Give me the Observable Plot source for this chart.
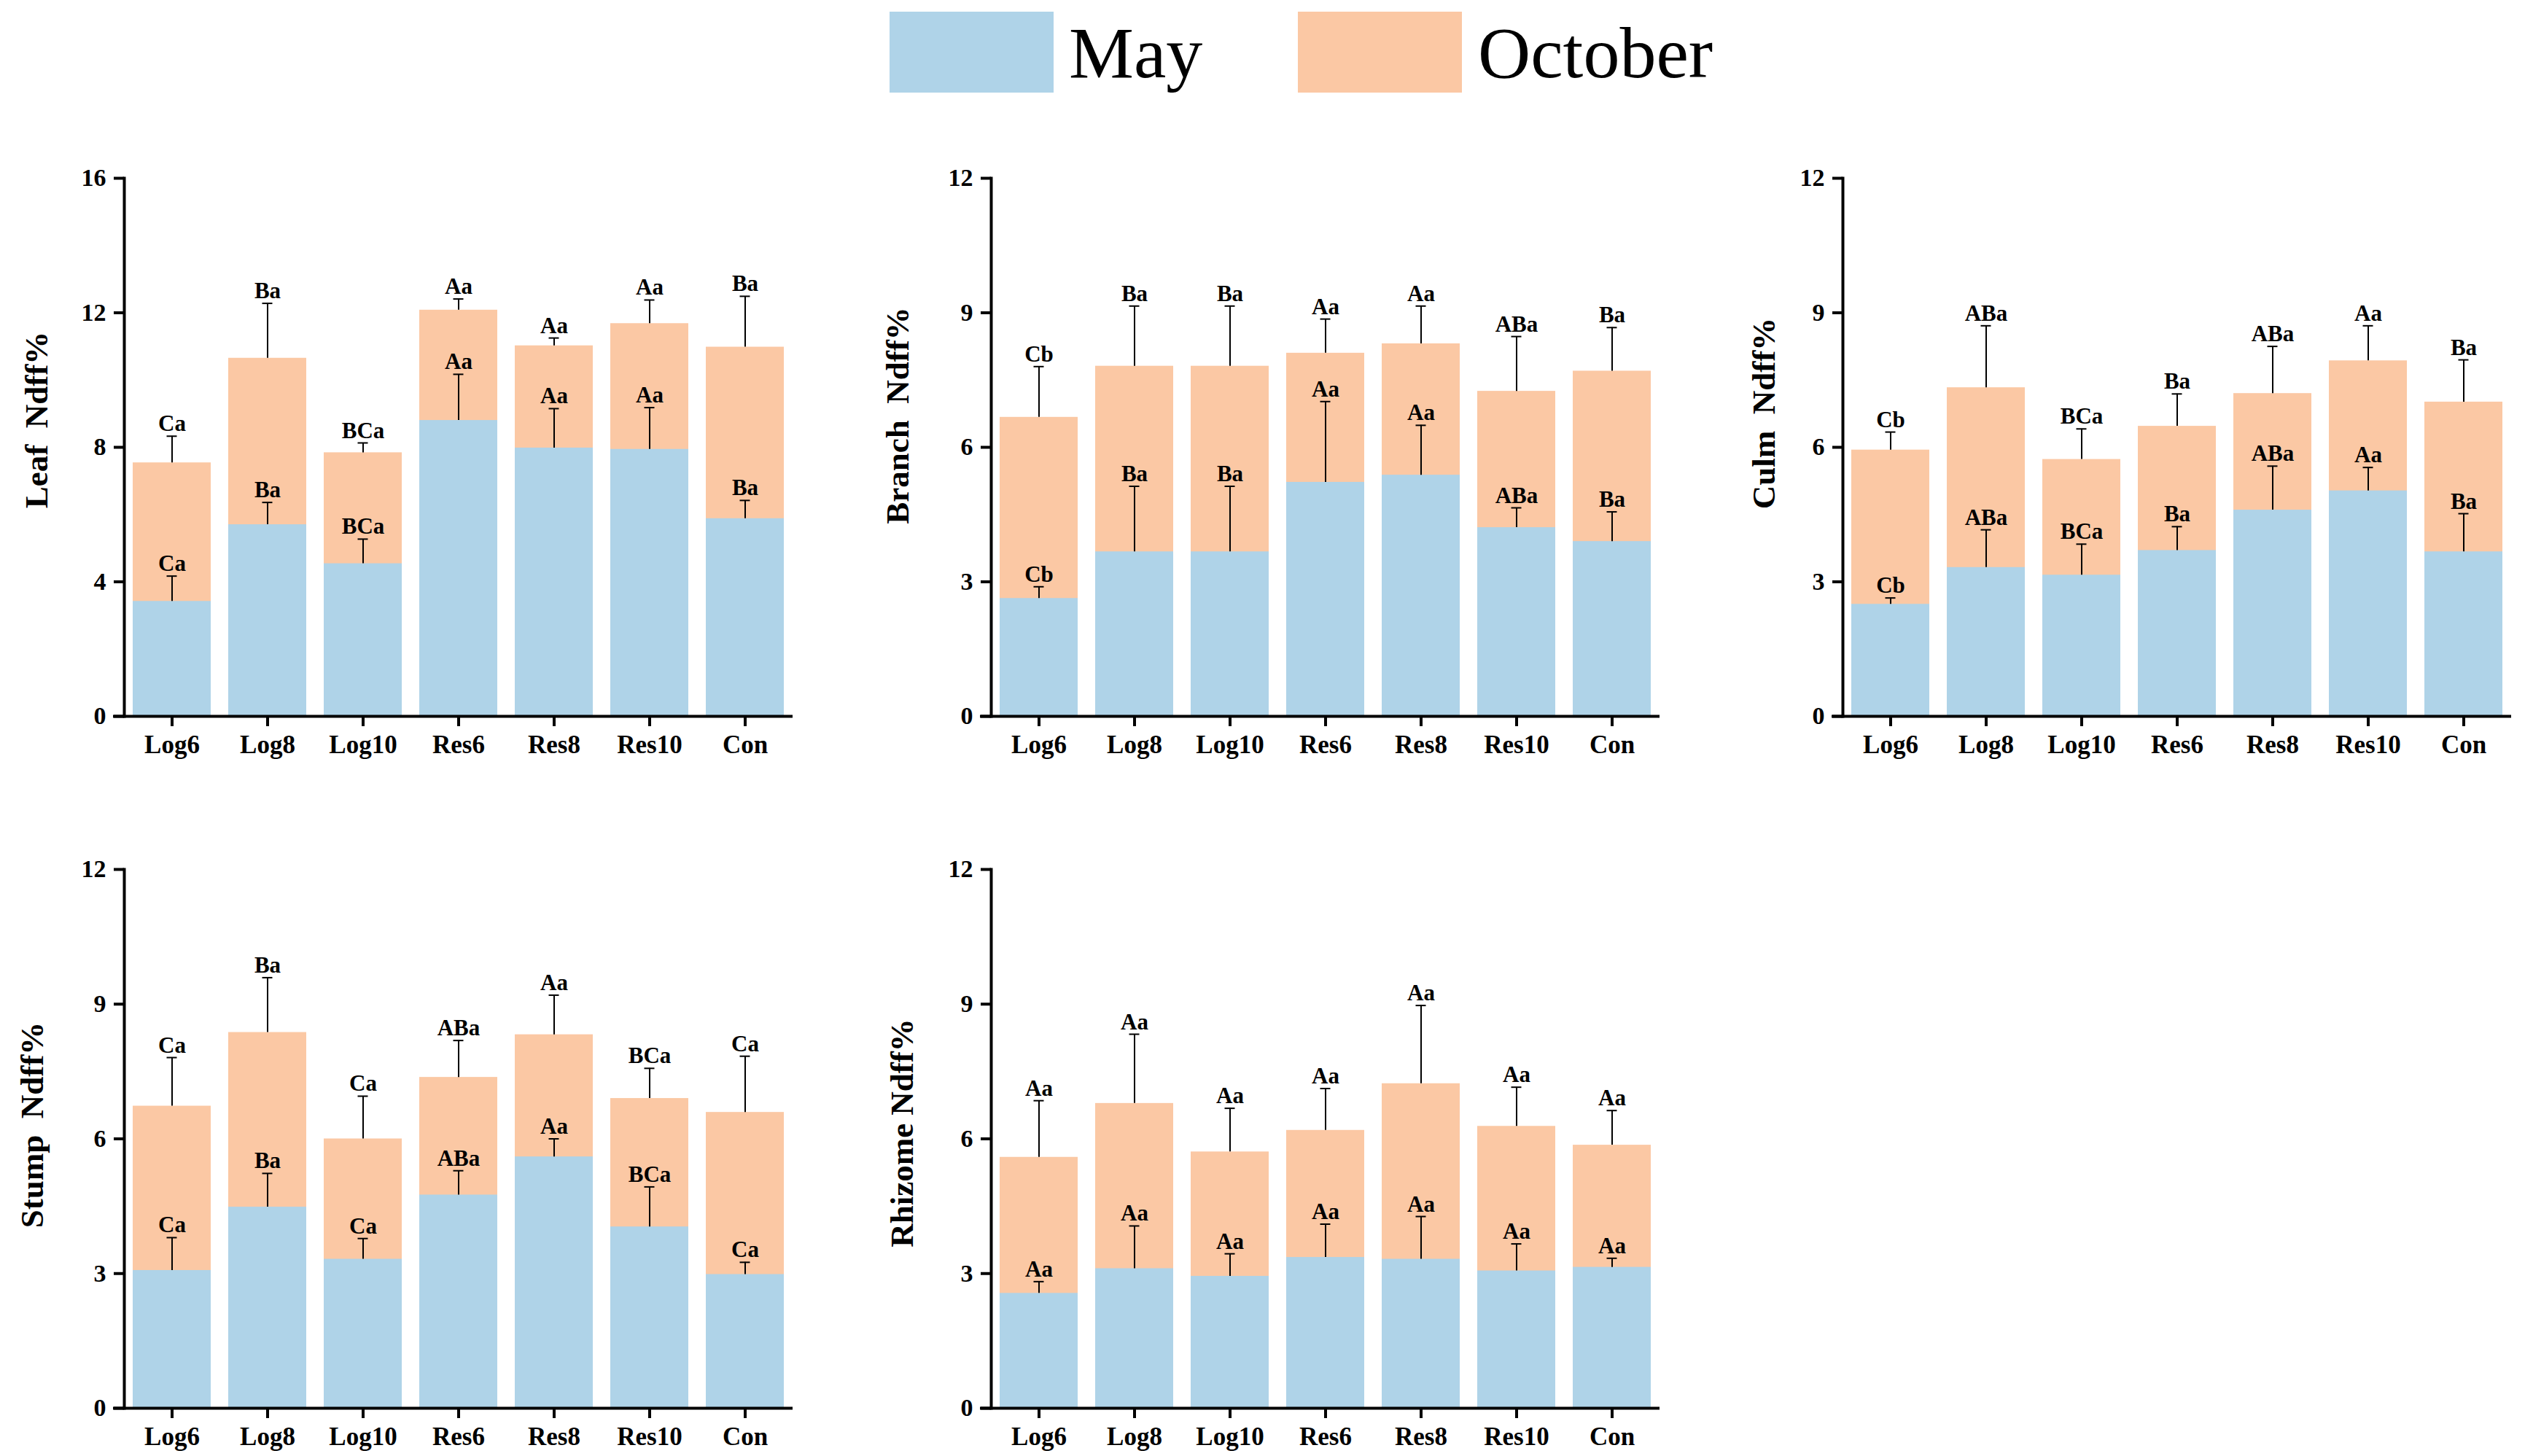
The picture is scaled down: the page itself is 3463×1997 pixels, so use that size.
<!DOCTYPE html>
<html><head><meta charset="utf-8">
<script src="https://cdn.jsdelivr.net/npm/d3@7"></script>
<script src="https://cdn.jsdelivr.net/npm/@observablehq/plot@0.6"></script>
<style>
html,body{margin:0;padding:0;background:#fff;overflow:hidden;}
#wrap{position:relative;width:3463px;height:1997px;font-family:"Liberation Serif","Times New Roman",serif;}
.panel{position:absolute;}
svg text{white-space:pre;}
</style></head><body><div id="wrap"></div>
<script>
const cats = ["Log6","Log8","Log10","Res6","Res8","Res10","Con"];
const seriesNames = ["May","October"];

const leafMay = [3.42,5.70,4.54,8.80,7.98,7.94,5.88];
const leafMaySd = [0.75,0.66,0.73,1.37,1.17,1.24,0.54];
const leafOct = [7.54,10.65,7.84,12.08,11.02,11.68,10.98];
const leafOctSd = [0.79,1.63,0.29,0.33,0.23,0.70,1.51];
const leafMayLab = ["Ca","Ba","BCa","Aa","Aa","Aa","Ba"];
const leafOctLab = ["Ca","Ba","BCa","Aa","Aa","Aa","Ba"];

const branchMay = [2.63,3.67,3.67,5.22,5.38,4.21,3.90];
const branchMaySd = [0.26,1.46,1.46,1.80,1.11,0.44,0.66];
const branchOct = [6.67,7.81,7.81,8.10,8.31,7.25,7.70];
const branchOctSd = [1.13,1.34,1.34,0.76,0.84,1.22,0.97];
const branchMayLab = ["Cb","Ba","Ba","Aa","Aa","ABa","Ba"];
const branchOctLab = ["Cb","Ba","Ba","Aa","Aa","ABa","Ba"];

const culmMay = [2.50,3.32,3.15,3.70,4.60,5.03,3.67];
const culmMaySd = [0.14,0.84,0.69,0.53,0.98,0.52,0.85];
const culmOct = [5.94,7.33,5.73,6.47,7.20,7.93,7.01];
const culmOctSd = [0.40,1.38,0.68,0.72,1.05,0.78,0.94];
const culmMayLab = ["Cb","ABa","BCa","Ba","ABa","Aa","Ba"];
const culmOctLab = ["Cb","ABa","BCa","Ba","ABa","Aa","Ba"];

const stumpMay = [3.07,4.48,3.32,4.75,5.60,4.04,2.98];
const stumpMaySd = [0.73,0.75,0.46,0.54,0.40,0.89,0.27];
const stumpOct = [6.73,8.37,6.00,7.37,8.32,6.90,6.59];
const stumpOctSd = [1.08,1.22,0.95,0.82,0.88,0.67,1.25];
const stumpMayLab = ["Ca","Ba","Ca","ABa","Aa","BCa","Ca"];
const stumpOctLab = ["Ca","Ba","Ca","ABa","Aa","BCa","Ca"];

const rhizMay = [2.56,3.11,2.94,3.36,3.32,3.06,3.14];
const rhizMaySd = [0.26,0.95,0.50,0.74,0.95,0.60,0.20];
const rhizOct = [5.59,6.79,5.71,6.19,7.23,6.28,5.86];
const rhizOctSd = [1.26,1.54,0.97,0.93,1.74,0.87,0.77];
const rhizMayLab = ["Aa","Aa","Aa","Aa","Aa","Aa","Aa"];
const rhizOctLab = ["Aa","Aa","Aa","Aa","Aa","Aa","Aa"];

const leafTicks = [0,4,8,12,16];
const otherTicks = [0,3,6,9,12];

const BLUE = "#afd3e8";
const ORANGE = "#fbc8a4";
const FONT = '"Liberation Serif","Times New Roman",serif';

const wrap = document.getElementById("wrap");

function panel(o) {
  const data = cats.map((c, i) => ({
    cat: c, may: o.may[i], maySd: o.maySd[i], mayLab: o.mayLab[i],
    oct: o.oct[i], octSd: o.octSd[i], octLab: o.octLab[i]
  }));
  const marginTop = 30, marginBottom = 65, marginLeft = 170, marginRight = 10;
  const width = marginLeft + 917 + marginRight;
  const height = marginTop + o.plotH + marginBottom;
  const chart = Plot.plot({
    width, height, marginTop, marginBottom, marginLeft, marginRight,
    style: {fontFamily: FONT, background: "transparent", overflow: "visible", color: "#000"},
    x: {domain: cats, paddingInner: 0.18, paddingOuter: 0.09, label: null},
    y: {domain: [0, o.yMax], label: null},
    marks: [
      Plot.barY(data, {x: "cat", y: "oct", fill: ORANGE}),
      Plot.barY(data, {x: "cat", y: "may", fill: BLUE}),
      Plot.ruleX(data, {x: "cat", y1: "may", y2: d => d.may + d.maySd, stroke: "#000", strokeWidth: 2}),
      Plot.tickY(data, {x: "cat", y: d => d.may + d.maySd, stroke: "#000", strokeWidth: 2, insetLeft: 46.5, insetRight: 46.5}),
      Plot.ruleX(data, {x: "cat", y1: "oct", y2: d => d.oct + d.octSd, stroke: "#000", strokeWidth: 2}),
      Plot.tickY(data, {x: "cat", y: d => d.oct + d.octSd, stroke: "#000", strokeWidth: 2, insetLeft: 46.5, insetRight: 46.5}),
      Plot.text(data, {x: "cat", y: d => d.may + d.maySd, text: "mayLab", dy: -7, lineAnchor: "bottom", fontSize: 31, fontWeight: "bold", fontFamily: FONT, fill: "#000"}),
      Plot.text(data, {x: "cat", y: d => d.oct + d.octSd, text: "octLab", dy: -7, lineAnchor: "bottom", fontSize: 31, fontWeight: "bold", fontFamily: FONT, fill: "#000"}),
      Plot.frame({anchor: "left", stroke: "#000", strokeWidth: 4}),
      Plot.ruleY([0], {stroke: "#000", strokeWidth: 4, insetLeft: -15}),
      Plot.axisY({ticks: o.ticks, tickSize: 14, tickPadding: 11, strokeWidth: 4, fontSize: 34, fontWeight: "bold", fontFamily: FONT, label: null, tickFormat: d => String(d)}),
      Plot.axisX({tickSize: 14, tickPadding: 12, strokeWidth: 4, fontSize: 35, fontWeight: "bold", fontFamily: FONT, label: null})
    ]
  });
  chart.classList.add("panel");
  chart.style.left = o.left + "px";
  chart.style.top = o.top + "px";
  // y-axis title, rotated
  d3.select(chart).append("text")
    .attr("transform", `translate(${marginLeft + o.labelDx},${o.labelY - o.top}) rotate(-90)`)
    .attr("text-anchor", "middle")
    .attr("dominant-baseline", "central")
    .attr("font-family", FONT)
    .attr("font-size", 45)
    .attr("font-weight", "bold")
    .attr("fill", "#000")
    .text(o.label);
  wrap.appendChild(chart);
}

panel({may: leafMay, maySd: leafMaySd, mayLab: leafMayLab, oct: leafOct, octSd: leafOctSd, octLab: leafOctLab,
  yMax: 16, ticks: leafTicks, label: "Leaf  Ndff%", labelDx: -120, labelY: 576, left: 0, top: 214, plotH: 738});
panel({may: branchMay, maySd: branchMaySd, mayLab: branchMayLab, oct: branchOct, octSd: branchOctSd, octLab: branchOctLab,
  yMax: 12, ticks: otherTicks, label: "Branch  Ndff%", labelDx: -128, labelY: 570, left: 1189, top: 214, plotH: 738});
panel({may: culmMay, maySd: culmMaySd, mayLab: culmMayLab, oct: culmOct, octSd: culmOctSd, octLab: culmOctLab,
  yMax: 12, ticks: otherTicks, label: "Culm  Ndff%", labelDx: -108, labelY: 567, left: 2357, top: 214, plotH: 738});
panel({may: stumpMay, maySd: stumpMaySd, mayLab: stumpMayLab, oct: stumpOct, octSd: stumpOctSd, octLab: stumpOctLab,
  yMax: 12, ticks: otherTicks, label: "Stump  Ndff%", labelDx: -126, labelY: 1543, left: 0, top: 1162, plotH: 739});
panel({may: rhizMay, maySd: rhizMaySd, mayLab: rhizMayLab, oct: rhizOct, octSd: rhizOctSd, octLab: rhizOctLab,
  yMax: 12, ticks: otherTicks, label: "Rhizome Ndff%", labelDx: -122, labelY: 1554, left: 1189, top: 1162, plotH: 739});

// Legend
const leg = d3.select(wrap).append("svg")
  .attr("width", 3463).attr("height", 150)
  .style("position", "absolute").style("left", "0px").style("top", "0px");
const legItems = [{name: seriesNames[0], color: BLUE, x: 1220, tx: 1466}, {name: seriesNames[1], color: ORANGE, x: 1780, tx: 2027}];
legItems.forEach(it => {
  leg.append("rect").attr("x", it.x).attr("y", 16).attr("width", 225).attr("height", 111).attr("fill", it.color);
  leg.append("text").attr("x", it.tx).attr("y", 106).attr("font-size", 100)
    .attr("font-family", FONT).attr("fill", "#000").text(it.name);
});
</script></body></html>
